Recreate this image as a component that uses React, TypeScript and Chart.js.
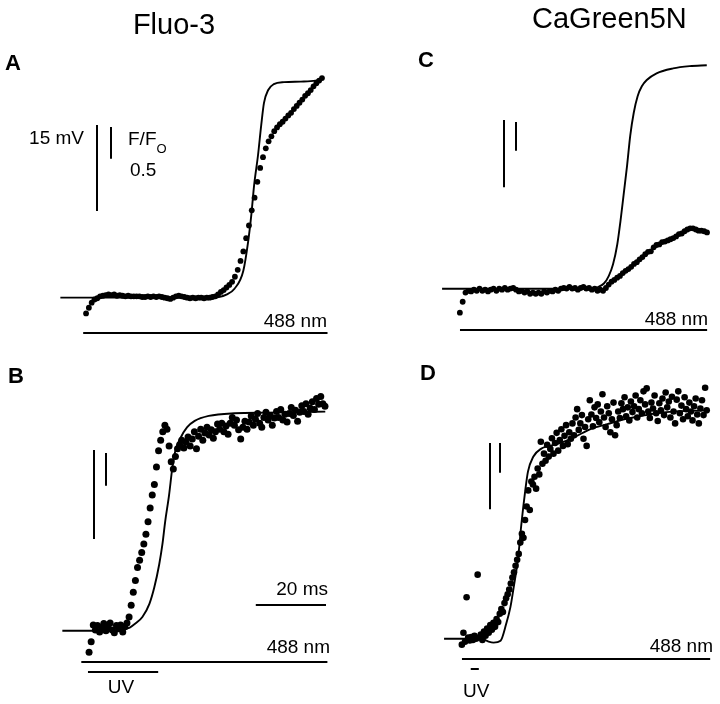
import React, { useEffect, useRef } from "react";
import { Chart, registerables } from "chart.js";

Chart.register(...registerables);

// ---------- data ----------
// Panel A (Fluo-3, 488 nm only)
const A_LINE_T = [0, 26.2, 43.1, 45.1, 47.3, 49.6, 52.1, 53.5, 54.4, 55.2, 56.3, 57.2, 58.0, 59.2, 60.8, 63.7, 68.5, 72.7, 74.6];
const A_LINE_MV = [0, 0, 0, 0.09, 0.52, 1.55, 4.66, 9.83, 14.48, 19.66, 24.83, 30.0, 33.97, 36.21, 37.24, 37.59, 37.67, 37.84, 38.28];
const A_DOT_T0 = 7.32;
const A_DOT_DT = 0.8;
const A_DOT_F = [
  -0.25, -0.16, -0.08, -0.03, -0.01, 0.02, 0.03, 0.04, 0.05, 0.04, 0.05, 0.03, 0.04, 0.03, 0.02, 0.03, 0.02, 0.02, 0.02, 0.02,
  0.01, 0.01, 0.02, 0.01, 0.02, 0.01, 0.02, 0.01, 0, -0.01, -0.02, 0, 0.02, 0.03, 0.02, 0.01, 0, -0.01, 0, -0.01,
  0, 0, -0.01, 0, 0, 0.01, 0.02, 0.05, 0.09, 0.12, 0.16, 0.2, 0.25, 0.33, 0.44, 0.58, 0.73, 0.94, 1.14, 1.38,
  1.58, 1.83, 2.05, 2.22, 2.36, 2.47, 2.55, 2.63, 2.69, 2.74, 2.78, 2.83, 2.88, 2.92, 2.98, 3.03, 3.08, 3.13, 3.19, 3.23,
  3.28, 3.34, 3.39, 3.43, 3.47,
];

// Panel B (Fluo-3, UV flash)
const B_LINE_T = [0, 11.5, 16.3, 19.2, 20.8, 22.8, 24.8, 26.2, 27.6, 28.5, 29.3, 30.4, 31.3, 32.1, 33.5, 35.5, 37.7, 41.7, 49.0, 58.6, 67.9, 74.9];
const B_LINE_MV = [0, 0, 0.12, 0.55, 1.22, 2.33, 4.55, 7.33, 11.22, 14.55, 18.45, 22.88, 27.33, 30.12, 32.33, 34.28, 35.38, 36.22, 36.67, 36.78, 36.88, 36.95];
const B_DOT_T0 = 7.61;
const B_DOT_DT = 0.6;
const B_DOT_F = [
  -0.36, -0.2, 0.06, -0.02, 0.05, -0.05, 0.02, 0.08, -0.03, 0.03, 0.09, -0.02, -0.06, 0.05, 0, 0.06, -0.05, 0.03, 0.09, 0.18,
  0.36, 0.56, 0.74, 0.94, 1.05, 1.17, 1.3, 1.45, 1.64, 1.85, 2.05, 2.21, 2.48, 2.73, 2.89, 3.02, 3.12, 3.06, 2.8, 2.56,
  2.45, 2.64, 2.76, 2.82, 2.89, 2.77, 2.86, 2.94, 2.8, 2.91, 3.02, 2.76, 2.95, 3.06, 2.89, 3.0, 3.09, 2.97, 3.05, 2.92,
  3.02, 3.14, 3.06, 3.15, 3.02, 3.11, 2.98, 3.15, 3.24, 3.12, 3.2, 3.05, 2.91, 3.09, 3.18, 3.06, 3.17, 3.26, 3.12, 3.21,
  3.3, 3.15, 3.09, 3.24, 3.32, 3.2, 3.27, 3.12, 3.23, 3.33, 3.24, 3.36, 3.2, 3.29, 3.17, 3.3, 3.39, 3.27, 3.35, 3.18,
  3.32, 3.42, 3.33, 3.45, 3.29, 3.38, 3.48, 3.36, 3.53, 3.44, 3.56, 3.45, 3.41,
];

// Panel C (CaGreen5N, 488 nm only)
const C_LINE_T = [0, 42.3, 44.2, 46.1, 47.5, 48.7, 49.9, 50.8, 51.7, 52.7, 53.6, 54.6, 55.7, 56.9, 58.3, 61.1, 65.8, 70.5, 75.4];
const C_LINE_MV = [0, 0, 0.29, 1.17, 2.87, 5.45, 9.87, 15.0, 20.9, 27.5, 34.2, 39.3, 43.0, 45.2, 46.6, 48.1, 49.2, 49.7, 49.9];
const C_DOT_T0 = 5.07;
const C_DOT_DT = 0.8;
const C_DOT_F = [
  -0.4, -0.21, -0.05, -0.02, -0.03, 0, -0.02, 0.02, -0.02, 0, -0.03, 0, 0.02, -0.02, 0.02, 0, 0.03, 0, 0.02, 0.03,
  0, -0.03, -0.02, -0.05, -0.03, -0.07, -0.05, -0.07, -0.05, -0.07, -0.03, -0.05, -0.02, -0.03, 0, -0.02, 0.02, 0.03, 0.02, 0.05,
  0.02, 0.03, 0, 0.03, 0.05, 0.02, 0.03, 0, 0.02, -0.02, 0, -0.02, 0.03, 0.09, 0.14, 0.17, 0.21, 0.24, 0.29, 0.33,
  0.36, 0.4, 0.45, 0.48, 0.53, 0.57, 0.62, 0.66, 0.67, 0.74, 0.78, 0.79, 0.83, 0.84, 0.86, 0.88, 0.9, 0.93, 0.97, 0.98,
  1.02, 1.05, 1.07, 1.07, 1.05, 1.03, 1.03, 1.02, 1.0,
];

// Panel D (CaGreen5N, UV flash)
const D_LINE_T = [0, 10.7, 12.7, 14.1, 16.1, 17.7, 18.9, 19.7, 21.1, 22.0, 23.1, 23.9, 25.4, 27.6, 32.4, 37.2, 41.7, 46.5, 51.3, 55.8, 60.6, 66.2, 75.2];
const D_LINE_MV = [0, 0, -0.67, -0.89, -0.45, 3.36, 7.16, 10.96, 18.34, 25.73, 33.33, 37.81, 41.16, 42.95, 44.07, 45.64, 47.43, 48.55, 49.66, 50.34, 51.01, 51.45, 51.68];
const D_DOT_T0 = 5.07;
const D_DOT_DT = 0.45;
const D_DOT_F = [
  -0.1, 0.1, -0.05, 0.7, 0.02, -0.03, 0.03, -0.02, 0.05, 0, 1.08, 0.02, 0.07, -0.02, 0.12, 0.05, 0.17, 0.1, 0.23, 0.15,
  0.27, 0.2, 0.33, 0.28, 0.42, 0.5, 0.45, 0.6, 0.68, 0.75, 0.83, 0.93, 1.03, 1.12, 1.23, 1.33, 1.43, 1.62, 1.77, 1.7,
  2.0, 2.23, 2.5, 2.17, 2.65, 2.6, 2.73, 2.53, 2.87, 2.77, 3.32, 2.95, 3.12, 3.0, 3.27, 3.07, 3.2, 3.38, 3.12, 3.3,
  3.47, 3.17, 3.35, 3.53, 3.25, 3.42, 3.6, 3.28, 3.48, 3.37, 3.63, 3.43, 3.73, 3.87, 3.52, 3.63, 3.77, 3.37, 3.57, 3.25,
  3.7, 4.02, 3.78, 3.58, 3.9, 3.72, 3.95, 3.65, 3.83, 4.12, 3.73, 3.57, 3.92, 3.8, 3.48, 3.7, 3.98, 3.43, 3.6, 3.83,
  3.72, 3.97, 3.87, 4.07, 3.75, 3.9, 3.68, 4.0, 3.82, 3.92, 4.1, 3.73, 3.87, 4.02, 3.8, 4.17, 3.95, 4.22, 3.83, 3.72,
  3.98, 3.88, 4.1, 3.8, 3.67, 3.97, 3.85, 4.05, 3.77, 4.15, 3.9, 4.0, 3.73, 4.08, 3.83, 3.63, 4.03, 4.17, 3.8, 3.93,
  3.7, 4.07, 3.87, 3.75, 3.98, 3.83, 3.68, 3.92, 4.05, 3.78, 3.63, 3.88, 4.02, 3.77, 4.23, 3.85,
];

// illumination periods (ms) and calibration bars
const A_488 = [6.5, 76.1];
const B_488 = [5.4, 75.5];
const C_488 = [5.1, 75.5];
const D_488 = [5.1, 75.8];
const B_UV = [7.3, 27.3];
const D_UV = [7.6, 9.9];
const SCALE_MV = 15;
const SCALE_F = 0.5;
const SCALE_MS = 20;

// ---------- layout ----------
const W = 720;
const H = 704;
const PX_PER_MS = 3.55;
const FONT = '"Liberation Sans", Arial, Helvetica, sans-serif';

function xAxis(x0: number) {
  const min = -x0 / PX_PER_MS;
  return { type: "linear", display: false, min, max: min + W / PX_PER_MS };
}
function yAxis(base: number, pxPerUnit: number) {
  const max = base / pxPerUnit;
  return { type: "linear", display: false, min: max - H / pxPerUnit, max };
}

function pts(t: number[], v: number[]) {
  return t.map((x, i) => ({ x, y: v[i] }));
}
function dots(t0: number, dt: number, v: number[]) {
  return v.map((y, i) => ({ x: t0 + i * dt, y }));
}

function lineDs(data: any, xAxisID: string, yAxisID: string) {
  return {
    type: "line",
    data,
    xAxisID,
    yAxisID,
    borderColor: "#000",
    borderWidth: 1.9,
    pointRadius: 0,
    fill: false,
    cubicInterpolationMode: "monotone",
  };
}
function dotDs(data: any, xAxisID: string, yAxisID: string, r: number) {
  return {
    type: "scatter",
    data,
    xAxisID,
    yAxisID,
    backgroundColor: "#000",
    borderColor: "#000",
    borderWidth: 0,
    pointRadius: r,
    showLine: false,
  };
}

const annotations = {
  id: "figureAnnotations",
  afterDraw(chart: any) {
    const ctx = chart.ctx as CanvasRenderingContext2D;
    const s = chart.scales;
    ctx.save();
    ctx.fillStyle = "#000";
    ctx.strokeStyle = "#000";
    ctx.lineWidth = 2;
    ctx.textBaseline = "alphabetic";

    const len = (sc: any, v: number) => Math.abs(sc.getPixelForValue(0) - sc.getPixelForValue(v));
    const vbar = (x: number, yTop: number, l: number) => {
      ctx.beginPath();
      ctx.moveTo(x, yTop);
      ctx.lineTo(x, yTop + l);
      ctx.stroke();
    };
    const hbar = (sc: any, range: number[], y: number) => {
      ctx.beginPath();
      ctx.moveTo(sc.getPixelForValue(range[0]), y);
      ctx.lineTo(sc.getPixelForValue(range[1]), y);
      ctx.stroke();
    };
    const text = (str: string, x: number, y: number, size: number, align: CanvasTextAlign = "left", bold = false) => {
      ctx.font = `${bold ? "bold " : ""}${size}px ${FONT}`;
      ctx.textAlign = align;
      ctx.fillText(str, x, y);
    };

    // titles
    text("Fluo-3", 174, 34, 29, "center");
    text("CaGreen5N", 532, 28, 29, "left");
    // panel letters
    text("A", 5, 70, 22, "left", true);
    text("C", 418, 67, 22, "left", true);
    text("B", 8, 383, 22, "left", true);
    text("D", 420, 380, 22, "left", true);

    // calibration bars
    vbar(97, 125, len(s.vA, SCALE_MV));
    vbar(111, 127, len(s.fA, SCALE_F));
    vbar(94, 450, len(s.vB, SCALE_MV));
    vbar(106, 453, len(s.fB, SCALE_F));
    vbar(504, 120, len(s.vC, SCALE_MV));
    vbar(516, 122, len(s.fC, SCALE_F));
    vbar(490, 443, len(s.vD, SCALE_MV));
    vbar(500, 443, len(s.fD, SCALE_F));

    text(`${SCALE_MV} mV`, 84, 144, 19, "right");
    text("F/F", 128, 145, 19, "left");
    ctx.font = `19px ${FONT}`;
    const wFF = ctx.measureText("F/F").width;
    text("O", 128 + wFF, 153, 13, "left");
    text(`${SCALE_F}`, 130, 176, 19, "left");

    // time bar
    const l20 = len(s.xB, SCALE_MS);
    ctx.beginPath();
    ctx.moveTo(326 - l20, 605);
    ctx.lineTo(326, 605);
    ctx.stroke();
    text(`${SCALE_MS} ms`, 328, 595, 19, "right");

    // illumination bars
    hbar(s.xA, A_488, 333);
    text("488 nm", 327, 327, 19, "right");
    hbar(s.xC, C_488, 330);
    text("488 nm", 708, 325, 19, "right");
    hbar(s.xB, B_488, 662);
    text("488 nm", 330, 653, 19, "right");
    hbar(s.xB, B_UV, 672);
    text("UV", 121, 693, 19, "center");
    hbar(s.xD, D_488, 659);
    text("488 nm", 713, 652, 19, "right");
    hbar(s.xD, D_UV, 669);
    text("UV", 463, 697, 19, "left");

    ctx.restore();
  },
};

export default function App() {
  const ref = useRef<HTMLCanvasElement | null>(null);
  useEffect(() => {
    if (!ref.current) return;
    const chart = new Chart(ref.current, {
      type: "scatter",
      data: {
        datasets: [
          lineDs(pts(A_LINE_T, A_LINE_MV), "xA", "vA"),
          dotDs(dots(A_DOT_T0, A_DOT_DT, A_DOT_F), "xA", "fA", 2.9),
          lineDs(pts(B_LINE_T, B_LINE_MV), "xB", "vB"),
          dotDs(dots(B_DOT_T0, B_DOT_DT, B_DOT_F), "xB", "fB", 3.5),
          lineDs(pts(C_LINE_T, C_LINE_MV), "xC", "vC"),
          dotDs(dots(C_DOT_T0, C_DOT_DT, C_DOT_F), "xC", "fC", 2.9),
          lineDs(pts(D_LINE_T, D_LINE_MV), "xD", "vD"),
          dotDs(dots(D_DOT_T0, D_DOT_DT, D_DOT_F), "xD", "fD", 3.3),
        ] as any,
      },
      options: {
        responsive: false,
        animation: false,
        devicePixelRatio: 1,
        layout: { padding: 0 },
        plugins: { legend: { display: false }, tooltip: { enabled: false } },
        events: [],
        scales: {
          xA: xAxis(57),
          vA: yAxis(297, 5.8),
          fA: yAxis(297, 64),
          xB: xAxis(59),
          vB: yAxis(634, 6.0),
          fB: yAxis(632, 66),
          xC: xAxis(443),
          vC: yAxis(288, 4.53),
          fC: yAxis(289, 58),
          xD: xAxis(445),
          vD: yAxis(642, 4.47),
          fD: yAxis(642, 60),
        } as any,
      },
      plugins: [annotations],
    });
    return () => chart.destroy();
  }, []);
  return (
    <div style={{ position: "fixed", left: 0, top: 0, width: W, height: H, background: "#fff" }}>
      <canvas ref={ref} width={W} height={H} style={{ display: "block" }} />
    </div>
  );
}
